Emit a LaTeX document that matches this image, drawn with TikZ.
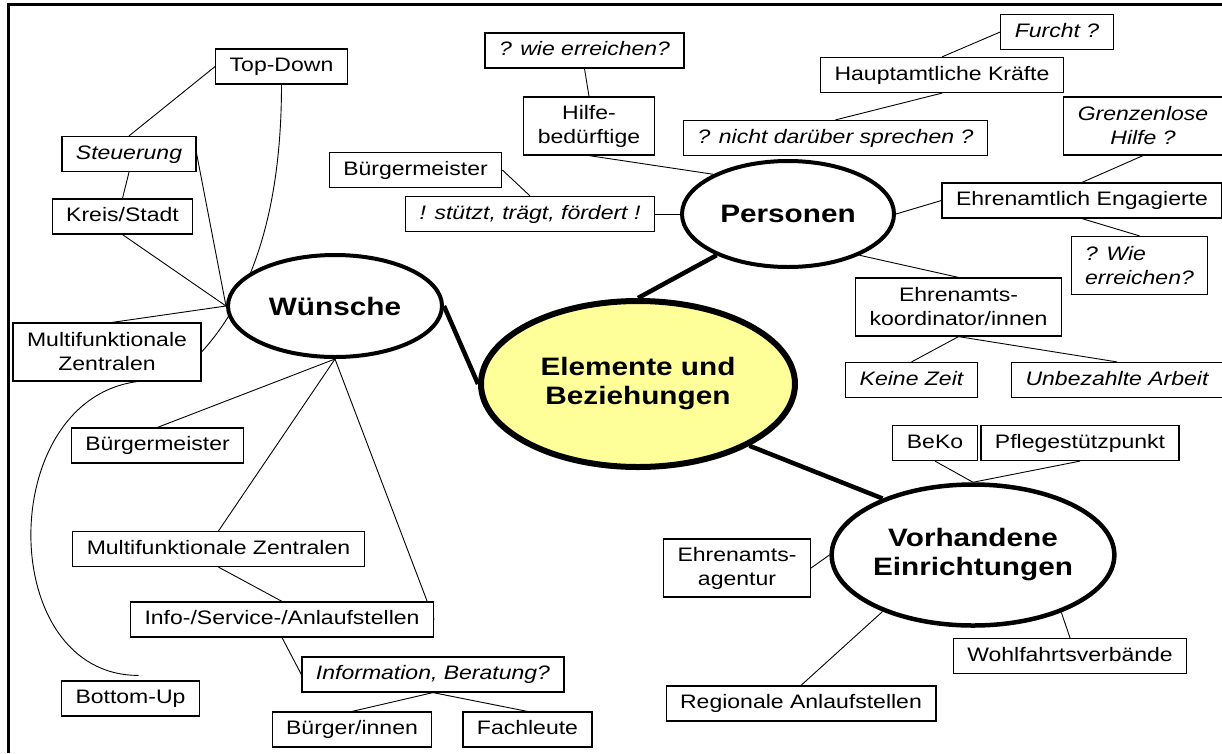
\documentclass[tikz,border=0pt]{standalone}
\usepackage{fontspec}
\setmainfont{Liberation Sans}[FakeStretch=1.18]
\usetikzlibrary{shapes.geometric,backgrounds}
\definecolor{hubyellow}{HTML}{FFFF99}
\tikzset{
  frame/.style={line width=3pt, draw=black},
  topic/.style={rectangle, draw=black, line width=1.2pt, fill=white, inner xsep=14pt, inner ysep=8pt,
    text height=14.5pt, text depth=4.5pt, font=\fontsize{19.5}{24}\selectfont},
  topicq/.style={topic, font=\fontsize{19.5}{24}\selectfont\itshape},
  topicii/.style={rectangle, draw=black, line width=1.2pt, fill=white, inner xsep=14pt, minimum height=58pt,
    align=center, font=\fontsize{19.5}{24}\selectfont},
  hub/.style={ellipse, draw=black, line width=4pt, fill=white, inner sep=0pt, align=center,
    font=\fontsize{25.2}{29}\selectfont\bfseries},
  link/.style={line width=0.9pt, draw=black},
  branch/.style={line width=4.5pt, draw=black},
}

\begin{document}
\begin{tikzpicture}[x=1pt, y=-1pt]
  \useasboundingbox (0,0) rectangle (1222,753);
  \draw[frame] (8,753) -- (8,4.5) -- (1222,4.5);

  % hubs
  \node[hub, minimum width=314pt, minimum height=166pt, line width=6pt, fill=hubyellow] (elemente) at (638,384) {Elemente und\\Beziehungen};
  \node[hub, minimum width=214pt, minimum height=102pt] (wuensche) at (335,306) {Wünsche};
  \node[hub, minimum width=212pt, minimum height=106pt] (personen) at (788,214) {Personen};
  \node[hub, minimum width=232pt, minimum height=141pt, line width=4.5pt] (vorh) at (973,555) {Vorhandene\\Einrichtungen};

  % Wünsche
  \node[topic] (topdown) at (281.5,66.5) {Top-Down};
  \node[topicq] (steuerung) at (129,154) {Steuerung};
  \node[topic] (kreis) at (122.5,216.5) {Kreis/Stadt};
  \node[topicii] (multiL) at (107,352) {Multifunktionale\\Zentralen};
  \node[topic] (bgmL) at (157.5,445.5) {Bürgermeister};
  \node[topic] (multiW) at (218.5,549) {Multifunktionale Zentralen};
  \node[topic] (info) at (282,619.5) {Info-/Service-/Anlaufstellen};
  \node[topicq] (beratung) at (433,674.5) {Information, Beratung?};
  \node[topic] (bottomup) at (130.5,698.5) {Bottom-Up};
  \node[topic] (buergerin) at (352,729.5) {Bürger/innen};
  \node[topic] (fach) at (527.5,729.5) {Fachleute};

  % Personen
  \node[topic] (bgmT) at (415.5,170) {Bürgermeister};
  \node[topicq] (stuetzt) at (530,214) {! stützt, trägt, fördert !};
  \node[topicq] (wie) at (584.5,50.5) {? wie erreichen?};
  \node[topicii] (hilfe) at (589,126) {Hilfe-\\bedürftige};
  \node[topicq] (furcht) at (1057,32) {Furcht ?};
  \node[topic] (hauptamt) at (942,75) {Hauptamtliche Kräfte};
  \node[topicq] (nicht) at (835.5,138) {? nicht darüber sprechen ?};
  \node[topicii, font=\fontsize{19.5}{24}\selectfont\itshape] (grenz) at (1143,126) {Grenzenlose\\Hilfe ?};
  \node[topic] (ehrenE) at (1082,200.5) {Ehrenamtlich Engagierte};
  \node[topicii, align=left, font=\fontsize{19.5}{24}\selectfont\itshape] (wiezwei) at (1139.5,265.5) {? Wie\\erreichen?};
  \node[topicii] (koord) at (958.5,307) {Ehrenamts-\\koordinator/innen};
  \node[topicq] (keine) at (911.5,380) {Keine Zeit};
  \node[topicq] (unbez) at (1117,380) {Unbezahlte Arbeit};

  % Vorhandene Einrichtungen
  \node[topic] (beko) at (935,443) {BeKo};
  \node[topic] (pflege) at (1080,443) {Pflegestützpunkt};
  \node[topicii] (agentur) at (737,568) {Ehrenamts-\\agentur};
  \node[topic] (wohl) at (1070,656) {Wohlfahrtsverbände};
  \node[topic] (regional) at (801,703.5) {Regionale Anlaufstellen};

  \begin{pgfonlayer}{background}
    % main branches
    \draw[branch] (wuensche.east) -- (elemente.west);
    \draw[branch] (elemente.north) -- (personen.210);
    \draw[branch] (elemente.-29) -- (vorh.148);
    % Wünsche
    \draw[link] (topdown.south) .. controls +(0,116) and +(55,-60) .. (multiL.east);
    \draw[link] ([xshift=30pt]multiL.south) .. controls +(-142,19) and +(-143,0) .. ([xshift=8pt,yshift=5pt]bottomup.north);
    \draw[link] (steuerung.north) -- (topdown.west);
    \draw[link] (steuerung.south) -- (kreis.north);
    \draw[link] (wuensche.west) -- (steuerung.east);
    \draw[link] (wuensche.west) -- (kreis.south);
    \draw[link] (wuensche.west) -- ([xshift=5pt]multiL.north);
    \draw[link] (wuensche.south) -- (bgmL.north);
    \draw[link] (wuensche.south) -- (multiW.north);
    \draw[link] (wuensche.south) -- (info.east);
    \draw[link] (multiW.south) -- (info.north);
    \draw[link] (info.south) -- (beratung.west);
    \draw[link] (beratung.south) -- (buergerin.north);
    \draw[link] (beratung.south) -- (fach.north);
    % Personen
    \draw[link] (bgmT.east) -- (stuetzt.north);
    \draw[link] (stuetzt.east) -- (personen.west);
    \draw[link] (wie.south) -- (hilfe.north);
    \draw[link] (hilfe.south) -- (personen.152);
    \draw[link] (furcht.west) -- (hauptamt.north);
    \draw[link] (hauptamt.south) -- (nicht.north);
    \draw[link] (personen.east) -- (ehrenE.west);
    \draw[link] (grenz.south) -- (ehrenE.north);
    \draw[link] (ehrenE.south) -- (wiezwei.north);
    \draw[link] (personen.-30) -- (koord.north);
    \draw[link] (koord.south) -- (keine.north);
    \draw[link] (koord.south) -- (unbez.north);
    % Vorhandene Einrichtungen
    \draw[link] (beko.south) -- (vorh.north);
    \draw[link] (pflege.south) -- (vorh.north);
    \draw[link] (agentur.east) -- (vorh.west);
    \draw[link] (vorh.-33) -- (wohl.north);
    \draw[link] (vorh.212) -- (regional.north);
  \end{pgfonlayer}
\end{tikzpicture}
\end{document}
